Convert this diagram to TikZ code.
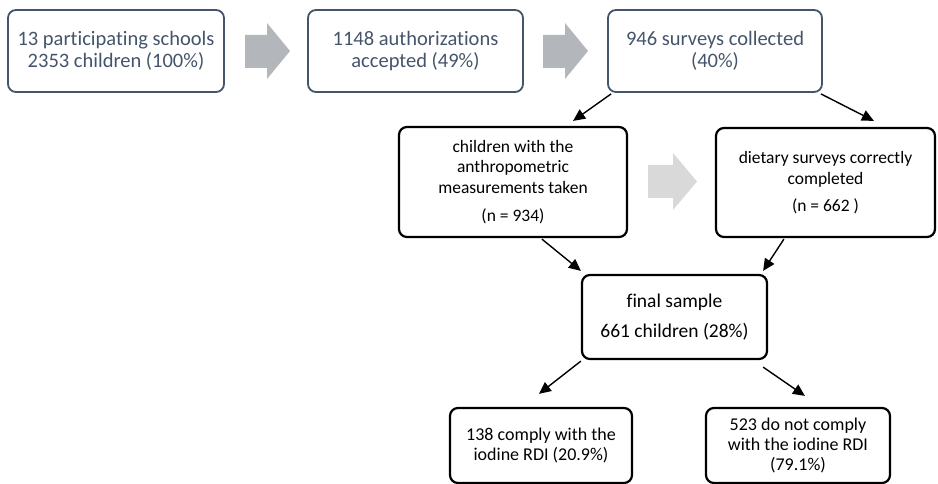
\documentclass[tikz,border=0pt]{standalone}
\usepackage{fontspec}
\setmainfont{Carlito}[Ligatures={NoCommon}]
\usetikzlibrary{arrows.meta,calc}
\definecolor{slate}{HTML}{44546A}
\definecolor{flowgray}{HTML}{B3B6BB}
\definecolor{lightflow}{HTML}{D9D9D9}
\tikzset{
  topbox/.style={draw=slate, line width=1.8pt, rounded corners=8pt, text=slate,
    align=center, inner sep=0pt, font=\fontsize{20.5}{22}\selectfont},
  lowbox/.style={draw=black, line width=2.2pt, rounded corners=8pt, text=black,
    align=center, inner sep=0pt},
  flow/.style={-{Triangle[length=12pt,width=11pt]}, line width=1.4pt, black},
}
\begin{document}
\begin{tikzpicture}[x=1pt,y=-1pt]
\useasboundingbox (0,0) rectangle (938,484);

% recruitment chain
\node[topbox, minimum width=216, minimum height=82] (schools) at (116,51)
  {13 participating schools\\2353 children (100\%)};
\node[topbox, minimum width=215, minimum height=82] (auth) at (415.5,51)
  {1148 authorizations\\accepted (49\%)};
\node[topbox, minimum width=214, minimum height=82] (surveys) at (715,51)
  {946 surveys collected\\(40\%)};

% block arrows between the top boxes
\fill[flowgray] (245,35) -- (267,35) -- (267,23) -- (290,51) -- (267,79)
  -- (267,68) -- (245,68) -- cycle;
\fill[flowgray] (543,35) -- (565,35) -- (565,23) -- (588,51) -- (565,79)
  -- (565,68) -- (543,68) -- cycle;

% second level
\node[lowbox, minimum width=228, minimum height=110,
  font=\fontsize{17.5}{20.5}\selectfont] (anthro) at (513,182)
  {children with the\\anthropometric\\measurements taken\\[8pt](n = 934)};
\node[lowbox, minimum width=219, minimum height=109,
  font=\fontsize{17.5}{21}\selectfont] (diet) at (825.5,182.5)
  {dietary surveys correctly\\completed\\[6pt](n = 662 )};
\fill[lightflow] (648,165) -- (673,165) -- (673,153) -- (697,181.5) -- (673,210)
  -- (673,198) -- (648,198) -- cycle;

% final sample
\node[lowbox, minimum width=185, minimum height=84,
  font=\fontsize{19.5}{30}\selectfont] (final) at (674.5,317)
  {final sample\\661 children (28\%)};

% outcome
\node[lowbox, minimum width=182, minimum height=75,
  font=\fontsize{18}{20}\selectfont] (comply) at (541,445.5)
  {138 comply with the\\iodine RDI (20.9\%)};
\node[lowbox, minimum width=184, minimum height=75,
  font=\fontsize{18}{20}\selectfont] (nocomply) at (798,445.5)
  {523 do not comply\\with the iodine RDI\\(79.1\%)};

% connectors
\draw[flow] ($(surveys.south west)+(4,1)$) -- ($(anthro.north east)+(-55,-5)$);
\draw[flow] ($(surveys.south east)+(-2,1)$) -- ($(diet.north west)+(159,-6)$);
\draw[flow] ($(anthro.south west)+(144,1)$) -- ($(final.north west)+(0,-3)$);
\draw[flow] ($(diet.south west)+(69,1)$) -- ($(final.north east)+(-5,-3)$);
\draw[flow] ($(final.south west)+(0,1)$) -- ($(comply.north west)+(90,-13)$);
\draw[flow] ($(final.south east)+(-5,7)$) -- ($(nocomply.north west)+(100,-11)$);
\end{tikzpicture}
\end{document}
